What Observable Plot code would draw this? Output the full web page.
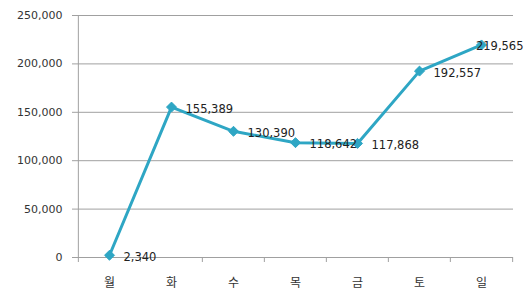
<!DOCTYPE html>
<html><head><meta charset="utf-8">
<script src="https://cdn.jsdelivr.net/npm/d3@7"></script>
<script src="https://cdn.jsdelivr.net/npm/@observablehq/plot@0.6"></script>
<style>
body{margin:0;background:#fff;}
</style>
</head><body><div id="chart"></div>
<script>
const days = ["월","화","수","목","금","토","일"];
const visitors = [2340, 155389, 130390, 118642, 117868, 192557, 219565];
const yTicks = [0, 50000, 100000, 150000, 200000, 250000];

const data = days.map((d, i) => ({day: d, value: visitors[i], i}));
const W = 526, H = 291, ML = 77, MR = 13, MT = 15, MB = 34;
const band = (W - ML - MR) / days.length;
const innerH = H - MT - MB;
const fmt = d3.format(",");
const lineColor = "#2EA6C4";

const chart = Plot.plot({
  width: W, height: H,
  marginLeft: ML, marginRight: MR, marginTop: MT, marginBottom: MB,
  style: {fontFamily: "'DejaVu Sans', 'Noto Sans CJK KR', sans-serif", fontSize: "11px", color: "#333", background: "#fff"},
  x: {type: "band", domain: days, padding: 0, label: null},
  y: {domain: [0, 250000], label: null},
  marks: [
    Plot.ruleY(yTicks, {stroke: "#a0a0a0", strokeWidth: 1}),
    Plot.axisY({ticks: yTicks, tickFormat: fmt, tickSize: 5, tickPadding: 10, stroke: "#a0a0a0", label: null, fontSize: 11}),
    Plot.ruleX([days[0]], {x: d => d, dx: -band / 2, stroke: "#a0a0a0"}),
    Plot.ruleX(days, {x: d => d, dx: -band / 2, insetTop: innerH, insetBottom: -5, stroke: "#a0a0a0"}),
    Plot.ruleX([days[days.length - 1]], {x: d => d, dx: band / 2, insetTop: innerH, insetBottom: -5, stroke: "#a0a0a0"}),
    Plot.axisX({tickSize: 0, tickPadding: 21, label: null, fontFamily: "'Noto Sans CJK KR', sans-serif", fontSize: 12}),
    Plot.line(data, {x: "day", y: "value", stroke: lineColor, strokeWidth: 3}),
    Plot.dot(data, {x: "day", y: "value", symbol: "diamond2", r: 4.5, fill: lineColor, stroke: lineColor, strokeWidth: 1}),
    Plot.text(data, {
      x: "day", y: "value", text: d => fmt(d.value),
      textAnchor: "start",
      fill: "#222", fontSize: 11.5,
      filter: d => d.i < days.length - 1,
      dx: 14, dy: 2
    }),
    Plot.text(data, {
      x: "day", y: "value", text: d => fmt(d.value),
      textAnchor: "end",
      fill: "#222", fontSize: 11.5,
      filter: d => d.i === days.length - 1,
      dx: 42, dy: 1
    })
  ]
});
document.getElementById("chart").appendChild(chart);
</script>
</body></html>
